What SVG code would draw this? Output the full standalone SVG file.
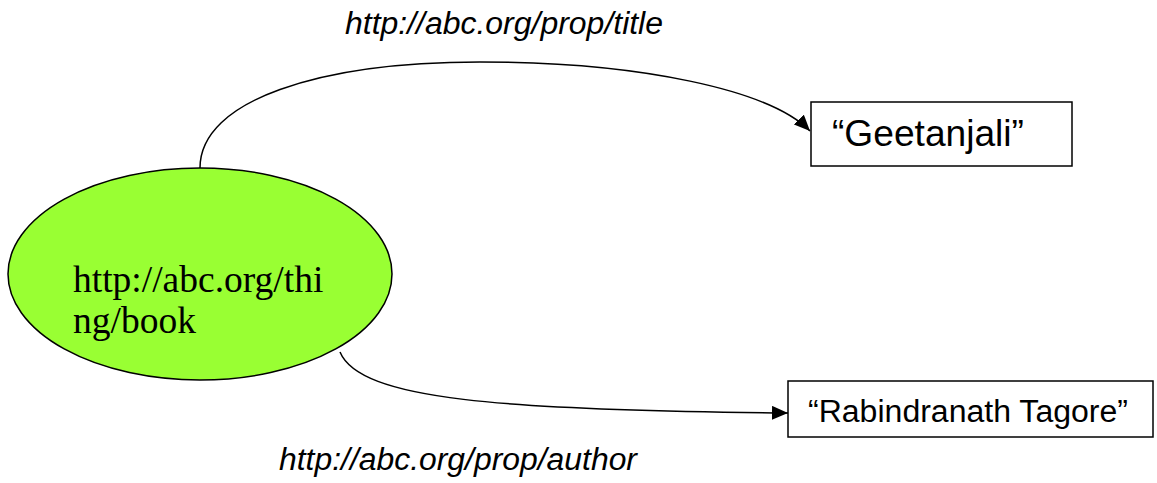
<svg xmlns="http://www.w3.org/2000/svg" width="1157" height="483" viewBox="0 0 1157 483">
<defs>
<style>
.lbl{font-family:"Liberation Sans",Arial,sans-serif;font-style:italic;fill:#000}
.box{fill:#fff;stroke:#000;stroke-width:1.5}
.btxt{font-family:"Liberation Sans",Arial,sans-serif;fill:#000}
.edge{fill:none;stroke:#000;stroke-width:1.5}
</style>
<marker id="arr" markerUnits="userSpaceOnUse" markerWidth="16" markerHeight="14" viewBox="0 0 16 14" refX="16" refY="7" orient="auto">
<path d="M0,0 L16,7 L0,14 Z" fill="#000"/>
</marker>
</defs>
<rect width="1157" height="483" fill="#fff"/>
<g id="connectors">
<path class="edge" d="M200,168 C200,100 320,62 480,62 C640,62 770,90 810,131" marker-end="url(#arr)"/>
<path class="edge" d="M340,352 C360,400 500,410 788,413" marker-end="url(#arr)"/>
<text class="lbl" x="345" y="34" font-size="31" textLength="318" lengthAdjust="spacingAndGlyphs">http://abc.org/prop/title</text>
<text class="lbl" x="279" y="470" font-size="31" textLength="358" lengthAdjust="spacingAndGlyphs">http://abc.org/prop/author</text>
</g>
<g id="book">
<ellipse cx="200" cy="274" rx="192" ry="106" fill="#99ff33" stroke="#000" stroke-width="1.5"/>
<text font-family="'Liberation Serif','Times New Roman',serif" font-size="37.5" fill="#000"><tspan x="73" y="292">http://abc.org/thi</tspan><tspan x="73" y="333">ng/book</tspan></text>
</g>
<g id="title">
<rect class="box" x="811" y="102" width="261" height="64"/>
<text class="btxt" x="832" y="146" font-size="37" textLength="192" lengthAdjust="spacingAndGlyphs">“Geetanjali”</text>
</g>
<g id="author">
<rect class="box" x="788" y="381" width="365" height="56"/>
<text class="btxt" x="808" y="422" font-size="31" textLength="320" lengthAdjust="spacingAndGlyphs">“Rabindranath Tagore”</text>
</g>
</svg>
